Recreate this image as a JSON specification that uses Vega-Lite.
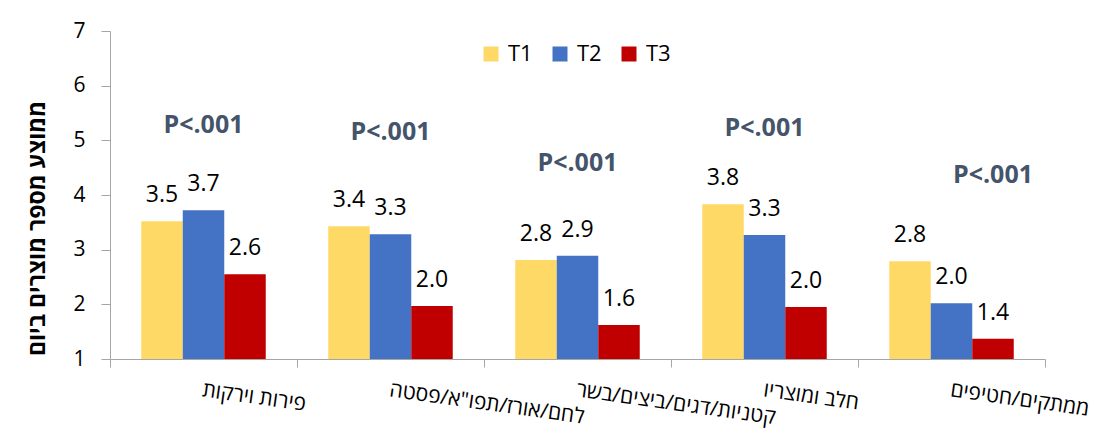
{
  "$schema": "https://vega.github.io/schema/vega-lite/v6.json",
  "width": 935,
  "height": 328,
  "autosize": "none",
  "padding": {"left": 110, "top": 31, "right": 62, "bottom": 82},
  "background": "white",
  "config": {
    "view": {"stroke": null},
    "font": "Open Sans",
    "axisY": {"labelFontSize": 21, "labelColor": "black", "labelPadding": 16, "tickSize": 9, "domainColor": "#A6A6A6", "tickColor": "#A6A6A6", "grid": false},
    "axisX": {"labelFontSize": 21, "labelColor": "black", "domainColor": "#A6A6A6", "tickColor": "#A6A6A6", "tickSize": 8},
    "legend": {"labelFontSize": 22, "labelColor": "black", "symbolSize": 225, "symbolType": "square", "symbolStrokeWidth": 0, "labelOffset": 6, "columnPadding": 16}
  },
  "datasets": {
    "bars": [
      {"category": "פירות וירקות", "series": "T1", "value": 3.52, "label": "3.5"},
      {"category": "פירות וירקות", "series": "T2", "value": 3.72, "label": "3.7"},
      {"category": "פירות וירקות", "series": "T3", "value": 2.55, "label": "2.6"},
      {"category": "לחם/אורז/תפו\"א/פסטה", "series": "T1", "value": 3.43, "label": "3.4"},
      {"category": "לחם/אורז/תפו\"א/פסטה", "series": "T2", "value": 3.28, "label": "3.3"},
      {"category": "לחם/אורז/תפו\"א/פסטה", "series": "T3", "value": 1.97, "label": "2.0"},
      {"category": "קטניות/דגים/ביצים/בשר", "series": "T1", "value": 2.81, "label": "2.8"},
      {"category": "קטניות/דגים/ביצים/בשר", "series": "T2", "value": 2.89, "label": "2.9"},
      {"category": "קטניות/דגים/ביצים/בשר", "series": "T3", "value": 1.62, "label": "1.6"},
      {"category": "חלב ומוצריו", "series": "T1", "value": 3.83, "label": "3.8"},
      {"category": "חלב ומוצריו", "series": "T2", "value": 3.27, "label": "3.3"},
      {"category": "חלב ומוצריו", "series": "T3", "value": 1.95, "label": "2.0"},
      {"category": "ממתקים/חטיפים", "series": "T1", "value": 2.79, "label": "2.8"},
      {"category": "ממתקים/חטיפים", "series": "T2", "value": 2.02, "label": "2.0"},
      {"category": "ממתקים/חטיפים", "series": "T3", "value": 1.37, "label": "1.4"}
    ],
    "pvals": [
      {"category": "פירות וירקות", "series": "T2", "value": 5.28, "label": "P<.001"},
      {"category": "לחם/אורז/תפו\"א/פסטה", "series": "T2", "value": 5.15, "label": "P<.001"},
      {"category": "קטניות/דגים/ביצים/בשר", "series": "T2", "value": 4.59, "label": "P<.001"},
      {"category": "חלב ומוצריו", "series": "T2", "value": 5.23, "label": "P<.001"},
      {"category": "ממתקים/חטיפים", "series": "T3", "value": 4.37, "label": "P<.001"}
    ]
  },
  "encoding": {
    "x": {
      "field": "category",
      "type": "nominal",
      "sort": null,
      "scale": {"paddingInner": 0, "paddingOuter": 0},
      "axis": {
        "title": null,
        "tickBand": "extent",
        "labelAngle": 8,
        "labelAlign": "left",
        "labelBaseline": "top",
        "labelPadding": 12,
        "labelLimit": 400
      }
    },
    "xOffset": {"field": "series", "type": "nominal", "scale": {"domain": ["T1", "T2", "T3"], "paddingInner": 0, "paddingOuter": 0.753}},
    "y": {
      "field": "value",
      "type": "quantitative",
      "scale": {"domain": [1, 7], "zero": false, "nice": false},
      "axis": {
        "values": [1, 2, 3, 4, 5, 6, 7],
        "format": "d",
        "title": "ממוצע מספר מוצרים ביום",
        "titleFontSize": 23,
        "titleFontWeight": "bold",
        "titleColor": "black",
        "titleX": -73,
        "titleY": 197,
        "titleBaseline": "middle",
        "titleAlign": "center",
        "titleAngle": -90
      }
    }
  },
  "layer": [
    {
      "data": {"name": "bars"},
      "mark": {"type": "bar"},
      "encoding": {
        "y2": {"datum": 1},
        "color": {
          "field": "series",
          "type": "nominal",
          "scale": {"domain": ["T1", "T2", "T3"], "range": ["#FFD966", "#4472C4", "#C00000"]},
          "legend": {
            "title": null,
            "orient": "none",
            "legendX": 370,
            "legendY": 12,
            "direction": "horizontal"
          }
        }
      }
    },
    {
      "data": {"name": "bars"},
      "mark": {"type": "text", "dy": -26, "baseline": "middle", "align": "center", "fontSize": 23, "color": "black"},
      "encoding": {
        "text": {"field": "label"}
      }
    },
    {
      "data": {"name": "pvals"},
      "mark": {"type": "text", "baseline": "middle", "align": "center", "fontSize": 25, "fontWeight": "bold", "color": "#44546A"},
      "encoding": {
        "text": {"field": "label"}
      }
    }
  ]
}
